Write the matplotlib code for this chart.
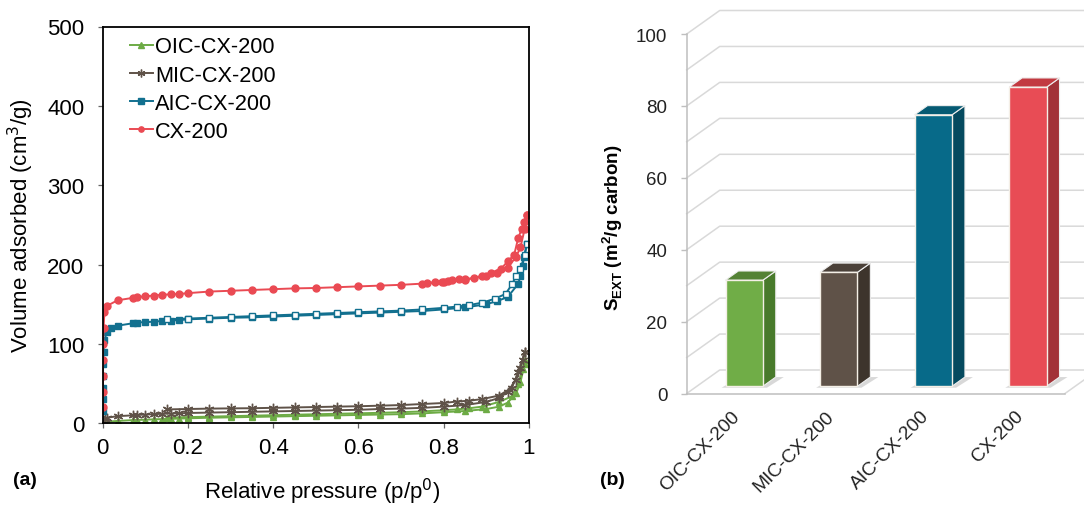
import numpy as np
import matplotlib
matplotlib.use('Agg')
import matplotlib.pyplot as plt
from matplotlib.patches import Polygon
from matplotlib.lines import Line2D

plt.rcParams['font.family'] = ['Liberation Sans', 'DejaVu Sans']

# ---------------- data: panel (a) isotherms ----------------
oic_ads_p = [0.0, 0.005, 0.01, 0.035, 0.07, 0.08, 0.1, 0.12, 0.14, 0.16, 0.18, 0.2, 0.25, 0.3, 0.35, 0.4,
             0.45, 0.5, 0.55, 0.6, 0.65, 0.7, 0.75, 0.8, 0.85, 0.9, 0.93, 0.95, 0.97, 0.98, 0.99]
oic_ads_v = [0, 1.5, 2, 3, 4, 4.2, 4.5, 5, 5.3, 5.6, 6, 6.3, 7, 7.5, 8, 8.5,
             9, 9.5, 10, 10.5, 11, 11.5, 12.5, 14, 15.5, 18, 21, 26, 38, 52, 75]
oic_des_p = [0.99, 0.985, 0.975, 0.96, 0.93, 0.89, 0.86, 0.83, 0.8, 0.75, 0.7, 0.65, 0.6, 0.55, 0.5,
             0.45, 0.4, 0.35, 0.3, 0.25, 0.2, 0.15]
oic_des_v = [80, 68, 50, 34, 27, 21, 19, 17.5, 16.5, 15, 14, 13.2, 12.6, 12, 11.4,
             10.8, 10.2, 9.6, 9.0, 8.4, 7.8, 7.2]

mic_ads_p = [0.0, 0.005, 0.01, 0.035, 0.07, 0.08, 0.1, 0.12, 0.14, 0.16, 0.18, 0.2, 0.25, 0.3, 0.35, 0.4,
             0.45, 0.5, 0.55, 0.6, 0.65, 0.7, 0.75, 0.8, 0.85, 0.9, 0.93, 0.95, 0.97, 0.98, 0.99]
mic_ads_v = [3, 6, 7, 9, 10, 10.5, 11, 11.5, 12, 12.3, 12.6, 13, 13.5, 14, 14.5, 15,
             15.5, 16, 16.5, 17, 18, 18.5, 19.5, 21, 23, 27, 32, 40, 55, 70, 90]
mic_des_p = [0.99, 0.985, 0.975, 0.96, 0.93, 0.89, 0.86, 0.83, 0.8, 0.75, 0.7, 0.65, 0.6, 0.55, 0.5,
             0.45, 0.4, 0.35, 0.3, 0.25, 0.2, 0.15]
mic_des_v = [90, 80, 65, 45, 35, 30.5, 28.5, 27.4, 25.6, 24.3, 23, 22.2, 21.5, 21, 20.5,
             20, 19.5, 19, 18.8, 18.5, 18, 17.5]

aic_ads_p = [0.0, 0.0002, 0.0004, 0.0007, 0.001, 0.002, 0.004, 0.01, 0.02, 0.035, 0.07, 0.08, 0.1, 0.12,
             0.14, 0.16, 0.18, 0.2, 0.25, 0.3, 0.35, 0.4, 0.45, 0.5, 0.55, 0.6, 0.65, 0.7, 0.75, 0.8,
             0.85, 0.9, 0.925, 0.95, 0.975, 0.98, 0.985, 0.988, 0.995]
aic_ads_v = [15, 30, 45, 60, 75, 90, 105, 115, 120, 123, 126, 127, 127.5, 128,
             129, 129.5, 130, 131, 132, 133, 133.5, 134.5, 135.5, 136.5, 137.5, 138.5, 139.5, 140.5, 141.5, 143.5,
             146, 150, 154, 159, 176, 186, 198, 209, 226]
aic_des_p = [0.995, 0.99, 0.98, 0.97, 0.96, 0.945, 0.92, 0.89, 0.86, 0.83, 0.8, 0.75, 0.7, 0.65, 0.6,
             0.55, 0.5, 0.45, 0.4, 0.35, 0.3, 0.25, 0.2, 0.15]
aic_des_v = [226, 212, 195, 186, 175, 163, 157, 152, 149, 147, 145.5, 143.5, 142, 141, 140,
             139, 138, 137, 136, 135, 134, 133, 132, 131]

cx_ads_p = [0.0, 0.0002, 0.0004, 0.0007, 0.001, 0.002, 0.004, 0.01, 0.035, 0.07, 0.08, 0.1, 0.12, 0.14,
            0.16, 0.18, 0.2, 0.25, 0.3, 0.35, 0.4, 0.45, 0.5, 0.55, 0.6, 0.65, 0.7, 0.75, 0.8, 0.85, 0.9,
            0.925, 0.95, 0.97, 0.98, 0.99, 0.995]
cx_ads_v = [20, 40, 60, 80, 100, 120, 140, 148, 155, 158, 159, 160, 161, 162,
            162.5, 163, 164, 166, 167, 168, 169, 170, 170.5, 171.5, 172.5, 173.5, 174.5, 176, 178, 181, 186,
            190, 196, 210, 222, 245, 262]
cx_des_p = [0.995, 0.988, 0.983, 0.975, 0.965, 0.95, 0.935, 0.91, 0.89, 0.87, 0.85, 0.835, 0.82, 0.81,
            0.795, 0.78, 0.76]
cx_des_v = [262, 254, 245, 234, 212, 204, 195, 189, 186, 183, 181.5, 181.5, 180, 179.5,
            178.5, 177.7, 177]

series_names = ['OIC-CX-200', 'MIC-CX-200', 'AIC-CX-200', 'CX-200']
x_ticks_a = [0, 0.2, 0.4, 0.6, 0.8, 1]
x_ticklabels_a = ['0', '0.2', '0.4', '0.6', '0.8', '1']
y_ticks_a = [0, 100, 200, 300, 400, 500]

# ---------------- data: panel (b) external surface ----------------
bar_categories = ['OIC-CX-200', 'MIC-CX-200', 'AIC-CX-200', 'CX-200']
bar_values = [29.5, 31.7, 75.5, 83.2]
y_ticks_b = [0, 20, 40, 60, 80, 100]

# ---------------- styles ----------------
c_green = '#6dab45'
c_brown = '#5f5248'
c_blue = '#12708f'
c_red = '#ea4a53'

front_cols = ['#70ad47', '#5f5248', '#076a89', '#e84c55']
side_cols = ['#487a2b', '#3d342c', '#054a5f', '#a23238']
top_cols = ['#548235', '#4b4139', '#055a73', '#c23a41']

W, H = 1084, 506
fig = plt.figure(figsize=(W / 100, H / 100), dpi=100)

# ================= panel (a) =================
axa = fig.add_axes([102.7 / W, (H - 424.3) / H, (529 - 102.7) / W, (424.3 - 27.5) / H])

lw = 1.4
ms = 5.0
specs = [
    (oic_ads_p, oic_ads_v, oic_des_p, oic_des_v, c_green, '^', True),
    (mic_ads_p, mic_ads_v, mic_des_p, mic_des_v, c_brown, (6, 2, 0), True),
    (aic_ads_p, aic_ads_v, aic_des_p, aic_des_v, c_blue, 's', False),
    (cx_ads_p, cx_ads_v, cx_des_p, cx_des_v, c_red, 'o', True),
]
for (ap, av, dp, dv, col, mk, des_filled) in specs:
    msz = ms + 1.8 if mk == (6, 2, 0) else ms
    axa.plot(ap, av, color=col, lw=lw, marker=mk, ms=msz, mfc=col, mec=col, mew=1.0)
    axa.plot(dp, dv, color=col, lw=lw, marker=mk, ms=msz,
             mfc=col if des_filled else 'white', mec=col, mew=1.0)

axa.set_xlim(0, 1)
axa.set_ylim(0, 500)
axa.set_xticks(x_ticks_a)
axa.set_xticklabels(x_ticklabels_a)
axa.set_yticks(y_ticks_a)
axa.tick_params(axis='both', direction='out', length=3.8, width=0.9, color='#666666', labelsize=16)
axa.tick_params(axis='y', pad=9.5)
axa.tick_params(axis='x', pad=6)
for s in axa.spines.values():
    s.set_linewidth(1.3)
    s.set_color('black')

axa.set_ylabel('Volume adsorbed (cm$^3$/g)', fontsize=16, labelpad=8)
fig.text(322 / W, 1 - 492 / H, 'Relative pressure (p/p$^0$)', fontsize=16, ha='center', va='center')
fig.text(13 / W, 1 - 481 / H, '(a)', fontsize=14, fontweight='bold', ha='left', va='center')

handles = []
for (ap, av, dp, dv, col, mk, des_filled), name in zip(specs, series_names):
    msz = ms + 1.8 if mk == (6, 2, 0) else ms
    handles.append(Line2D([], [], color=col, lw=lw, marker=mk, ms=msz - 1.2, mfc=col, mec=col))
leg = axa.legend(handles, series_names, loc='upper left', bbox_to_anchor=(0.064, 0.975),
                 frameon=False, fontsize=15.7, handlelength=1.05, handletextpad=0.1,
                 labelspacing=0.33, borderpad=0.0, borderaxespad=0.0)

# ================= panel (b) =================
bx0, bx1 = 686.7, 1065.0
by0, by1 = 394.5, 35.0
axb = fig.add_axes([bx0 / W, (H - by0) / H, (bx1 - bx0) / W, (by0 - by1) / H])
axb.set_xlim(-0.5, 3.5)
axb.set_ylim(0, 100)
ppx = (bx1 - bx0) / 4.0      # pixels per category unit
ppy = (by0 - by1) / 100.0    # pixels per value unit

DX, DY = 33.0, 23.5          # depth of the 3-D box in pixels
f1, f2 = 0.31, 0.70          # bar front / back depth fractions


def off(x, y, frac, ex=0.0, ey=0.0):
    return (x + (DX * frac + ex) / ppx, y + (DY * frac + ey) / ppy)


grid_c = '#d9d9d9'
xl, xr = axb.get_xlim()
for v in range(0, 101, 10):
    p0 = (xl, v)
    p1 = off(xl, v, 1.0)
    p2 = off(xr + 0.5, v, 1.0)
    axb.add_line(Line2D([p0[0], p1[0], p2[0]], [p0[1], p1[1], p2[1]], color=grid_c, lw=1.1,
                        clip_on=False, zorder=0))
# floor right edge
q0 = (xr, 0)
q1 = off(xr, 0, 1.0)
axb.add_line(Line2D([q0[0], q1[0]], [q0[1], q1[1]], color=grid_c, lw=1.1, clip_on=False, zorder=0))

w = 37.4 / ppx
for i, (val, fc, sc, tc) in enumerate(zip(bar_values, front_cols, side_cols, top_cols)):
    xa, xb = i - w / 2, i + w / 2
    shadow = Polygon([off(xa, 0, f1, -4, -1.5), off(xb, 0, f1, 4, -1.5),
                      off(xb, 0, f2, 8, 0), off(xa, 0, f2, 2, 0)],
                     closed=True, fc='#cfcfcf', ec='none', alpha=0.8, zorder=1, clip_on=False)
    axb.add_patch(shadow)
    side = Polygon([off(xb, 0, f1), off(xb, val, f1), off(xb, val, f2), off(xb, 0, f2)],
                   closed=True, fc=sc, ec='#eeeeee', lw=0.8, zorder=2, clip_on=False)
    top = Polygon([off(xa, val, f1), off(xb, val, f1), off(xb, val, f2), off(xa, val, f2)],
                  closed=True, fc=tc, ec='#eeeeee', lw=0.8, zorder=2, clip_on=False)
    front = Polygon([off(xa, 0, f1), off(xb, 0, f1), off(xb, val, f1), off(xa, val, f1)],
                    closed=True, fc=fc, ec='#f4efe6', lw=1.0, zorder=3, clip_on=False)
    axb.add_patch(side)
    axb.add_patch(top)
    axb.add_patch(front)

for sname in ['top', 'right']:
    axb.spines[sname].set_visible(False)
axb.spines['left'].set_color('#bfbfbf')
axb.spines['bottom'].set_color('#bfbfbf')
axb.spines['left'].set_linewidth(1.1)
axb.spines['bottom'].set_linewidth(1.1)
axb.set_yticks(y_ticks_b)
axb.tick_params(axis='y', direction='out', length=4, width=1, color='#bfbfbf', labelsize=13.5,
                pad=10, labelcolor='#222222')
label_shift = (DX * f1 - 13) / ppx
axb.set_xticks([i + label_shift for i in range(len(bar_categories))])
axb.set_xticklabels(bar_categories, rotation=45, ha='right', va='top', rotation_mode='anchor',
                    fontsize=13.8, color='#222222')
axb.tick_params(axis='x', length=0, pad=10)
axb.set_ylabel('S$_{\\mathregular{EXT}}$ (m$^{\\mathregular{2}}$/g carbon)', fontsize=13.5,
               fontweight='bold', labelpad=10)
axb.yaxis.set_label_coords((625.3 - bx0) / (bx1 - bx0), (by0 - 228) / (by0 - by1))
fig.text(600 / W, 1 - 481 / H, '(b)', fontsize=14, fontweight='bold', ha='left', va='center')

fig.savefig('out.png', dpi=100)
